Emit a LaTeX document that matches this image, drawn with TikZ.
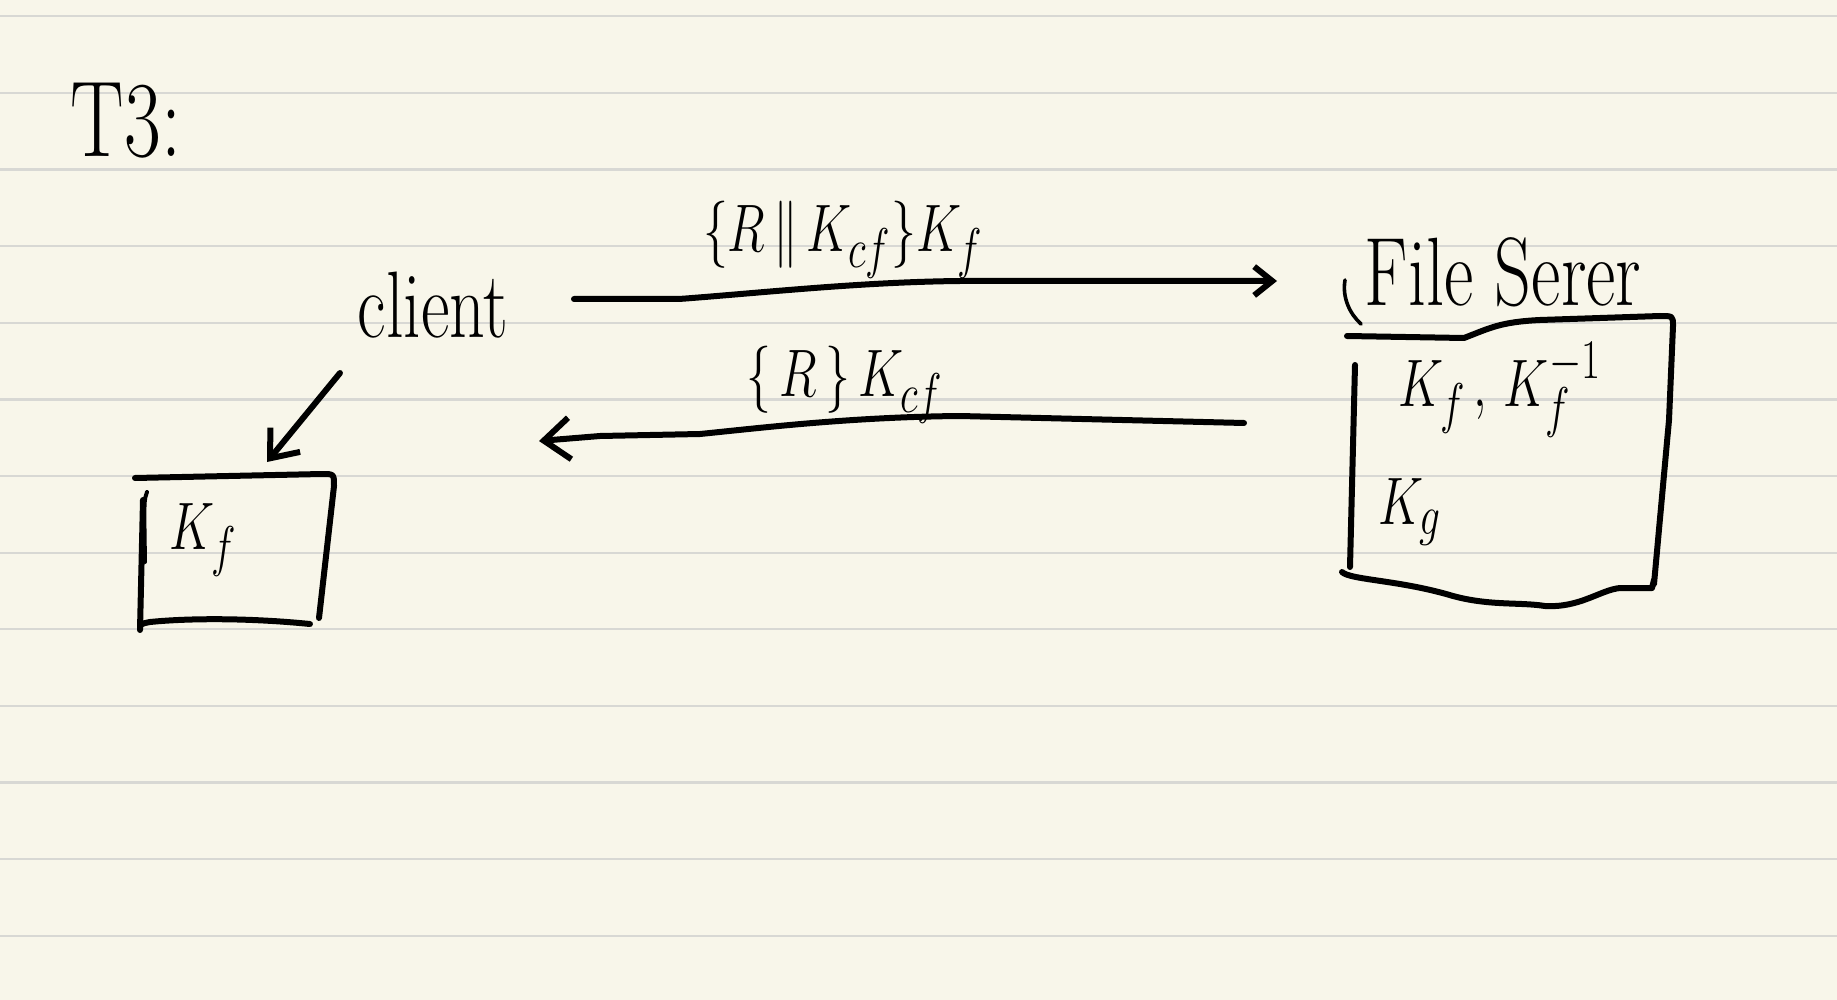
\documentclass[tikz,border=0pt]{standalone}
\usepackage{graphicx}
\usetikzlibrary{arrows.meta}
\definecolor{paper}{HTML}{F8F6EA}
\definecolor{ruling}{HTML}{D8D8D4}
\newcommand{\hw}[2]{\fontsize{#1}{#1}\selectfont\scalebox{1}[1.35]{#2}}
\begin{document}
\begin{tikzpicture}[x=0.5pt,y=-0.5pt,
  ink/.style={line width=3pt, line cap=round, line join=round},
  lbl/.style={inner sep=0pt, anchor=center},
  barb/.style={-{Straight Barb[length=#1, width=1.6*#1, line width=3pt]}}]
\fill[paper] (0,0) rectangle (1837,1000);
\useasboundingbox (0,0) rectangle (1837,1000);
\foreach \k in {0,...,12}
  \draw[ruling, line width=1.1pt] (0,{16.4+76.6*\k}) -- (1837,{16.4+76.6*\k});

% texts
\node[lbl] (t3) at (126,121) {\hw{40}{T3:}};
\node[lbl] (client) at (433,305) {\hw{35}{client}};
\node[lbl] (fs) at (1503,272) {\hw{36}{File Serer}};
\node[lbl] (m1) at (843,240) {\hw{31}{$\{R\,\|\,K_{cf}\}K_f$}};
\node[lbl] (m2) at (845,385) {\hw{30}{$\{\,R\,\}\,K_{cf}$}};
\node[lbl] (fk1) at (1500,390) {\hw{30}{$K_f\,,\,K_f^{-1}$}};
\node[lbl] (fk2) at (1410,512) {\hw{30}{$K_g$}};
\node[lbl] (ck) at (203,540) {\hw{30}{$K_f$}};

% connector coordinates
\coordinate (a1s) at (574,299);
\coordinate (a1e) at (1277,281);
\coordinate (a2s) at (1244,423);
\coordinate (a2e) at (539,441);
\coordinate (a3s) at (340,373);
\coordinate (a3e) at (267,462);

% top arrow: client -> file server
\draw[ink, barb=9pt] (a1s) -- (679,299) .. controls (760,293) and (860,282) .. (960,281) -- (a1e);
% bottom arrow: file server -> client
\draw[ink, barb=13pt] (a2s) -- (960,416) .. controls (850,417) and (760,428) .. (700,434) -- (600,436) -- (a2e);
% client to its box
\draw[ink, barb=12pt] (a3s) -- (a3e);

% client box
\draw[ink] (135,478) -- (322,474) .. controls (334,474) .. (334,486) -- (319,618);
\draw[ink] (310,624) .. controls (250,618) and (190,618) .. (150,622) .. controls (140,624) .. (140,630) -- (143,500);
\draw[line width=2pt, line cap=round] (147,492) .. controls (144,500) .. (145,562);

% file server box
\draw[ink] (1347,336) -- (1464,338) .. controls (1490,328) and (1500,322) .. (1540,320) -- (1660,316) .. controls (1673,316) .. (1673,326) -- (1669,420) -- (1654,584);
\draw[ink] (1342,572) .. controls (1350,580) and (1400,580) .. (1453,596) .. controls (1490,606) and (1520,602) .. (1545,606) .. controls (1580,608) and (1600,590) .. (1620,588) -- (1652,588) -- (1654,580);
\draw[ink] (1355,365) -- (1350,567);
\draw[line width=1.8pt, line cap=round] (1345,280) .. controls (1342,298) and (1350,314) .. (1361,324);
\end{tikzpicture}
\end{document}
